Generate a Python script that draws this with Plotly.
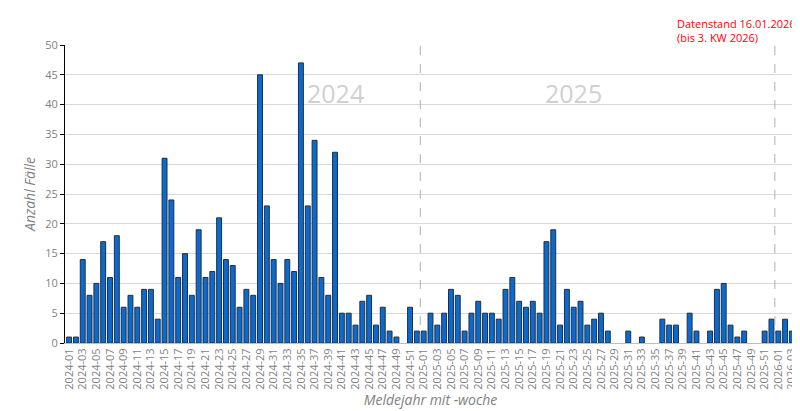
import plotly.graph_objects as go

# Weekly case counts
vals_2024 = [1, 1, 14, 8, 10, 17, 11, 18, 6, 8,
             6, 9, 9, 4, 31, 24, 11, 15, 8, 19,
             11, 12, 21, 14, 13, 6, 9, 8, 45, 23,
             14, 10, 14, 12, 47, 23, 34, 11, 8, 32,
             5, 5, 3, 7, 8, 3, 6, 2, 1, 0, 6, 2]
vals_2025 = [2, 5, 3, 5, 9, 8, 2, 5, 7, 5,
             5, 4, 9, 11, 7, 6, 7, 5, 17, 19,
             3, 9, 6, 7, 3, 4, 5, 2, 0, 0,
             2, 0, 1, 0, 0, 4, 3, 3, 0, 5,
             2, 0, 2, 9, 10, 3, 1, 2, 0, 0, 2, 4]
vals_2026 = [2, 4, 2]

weeks = ([f"2024-{w:02d}" for w in range(1, 53)]
         + [f"2025-{w:02d}" for w in range(1, 53)]
         + [f"2026-{w:02d}" for w in range(1, 4)])
values = vals_2024 + vals_2025 + vals_2026
tick_labels = weeks[::2]

grey = "#7f7f7f"
fig = go.Figure(go.Bar(
    x=weeks, y=values,
    marker=dict(color="#0a6ad0",
                line=dict(color="#1f2f40", width=[1 if v > 0 else 0 for v in values])),
    width=0.72,
))

shapes = []
for pos in [51.5, 103.5]:
    shapes.append(dict(type="line", xref="x", yref="paper", x0=pos, x1=pos,
                       y0=0, y1=1, line=dict(color="#b0b0b0", width=1, dash="dash")))

fig.update_layout(
    width=800, height=411,
    margin=dict(l=57, r=12, t=37, b=76),
    plot_bgcolor="white", paper_bgcolor="white",
    font=dict(family="Open Sans", color=grey, size=11),
    showlegend=False,
    shapes=shapes,
    xaxis=dict(
        type="category", tickvals=tick_labels, ticktext=tick_labels, automargin=False,
        tickangle=-90, tickfont=dict(size=11, color=grey),
        showgrid=False, showline=True, linecolor="#bfbfbf",
        range=[-0.6, len(weeks) - 0.4],
        title=dict(text="<i>Meldejahr mit -woche</i>", font=dict(size=14, color=grey), standoff=4),
    ),
    yaxis=dict(
        range=[0, 50], dtick=5, showgrid=True, gridcolor="#d9d9d9", automargin=False,
        showline=True, linecolor="black", ticks="outside", ticklen=4, tickcolor="black",
        tickfont=dict(size=11, color=grey),
        title=dict(text="<i>Anzahl Fälle</i>", font=dict(size=14, color=grey), standoff=6),
    ),
    annotations=[
        dict(x="2024-40", y=42, text="2024", showarrow=False, yanchor="middle",
             font=dict(size=25, color="#d0d0d0")),
        dict(x="2025-23", y=42, text="2025", showarrow=False, yanchor="middle",
             font=dict(size=25, color="#d0d0d0")),
        dict(xref="paper", yref="paper", x=0.835, y=1.105, xanchor="left", yanchor="top",
             align="left", showarrow=False,
             text="Datenstand 16.01.2026<br>(bis 3. KW 2026)",
             font=dict(size=11, color="#ff0000")),
    ],
)

fig.write_html("out.html")
